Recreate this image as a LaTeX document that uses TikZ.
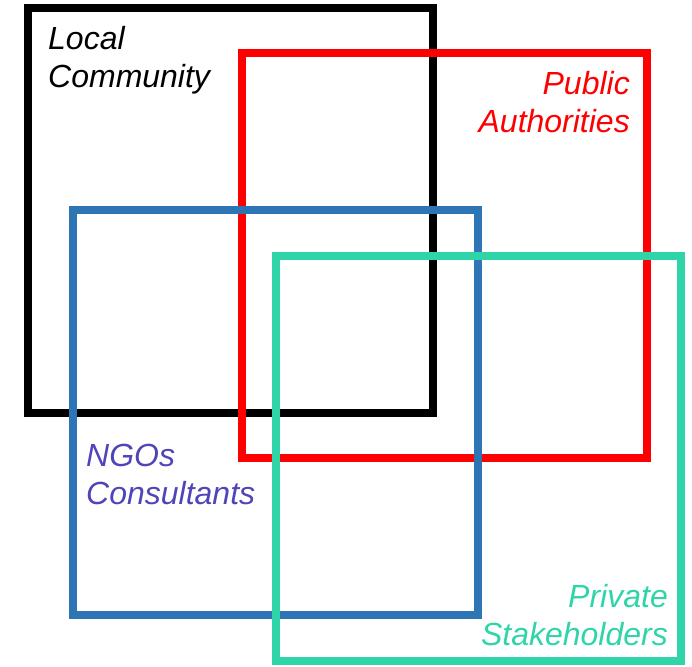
\documentclass[tikz,border=0pt]{standalone}
\usepackage{fontspec}
\setmainfont{Liberation Sans}
\definecolor{cred}{HTML}{FF0000}
\definecolor{cblue}{HTML}{2E75B6}
\definecolor{cteal}{HTML}{2FD5A9}
\definecolor{cngo}{HTML}{4F45B8}
\begin{document}
\begin{tikzpicture}[x=1pt,y=-1pt,
  box/.style={line width=8pt},
  lbl/.style={font=\fontsize{32}{38}\selectfont\itshape, inner sep=0pt}]
\useasboundingbox (0,0) rectangle (692,666);
\draw[box,black] (28,8) rectangle (433,413);
\draw[box,cred] (242,53) rectangle (647,458);
\draw[box,cblue] (73,210) rectangle (478,615);
\draw[box,cteal] (276,256) rectangle (681,661);
\node[lbl, anchor=base west, align=left, text=black] (lc) at (48,88) {Local\\Community};
\node[lbl, anchor=base east, align=right, text=cred] (pa) at (630,132) {Public\\Authorities};
\node[lbl, anchor=base west, align=left, text=cngo] (ngo) at (86,504) {NGOs\\Consultants};
\node[lbl, anchor=base east, align=right, text=cteal] (ps) at (668,645) {Private\\Stakeholders};
\end{tikzpicture}
\end{document}
